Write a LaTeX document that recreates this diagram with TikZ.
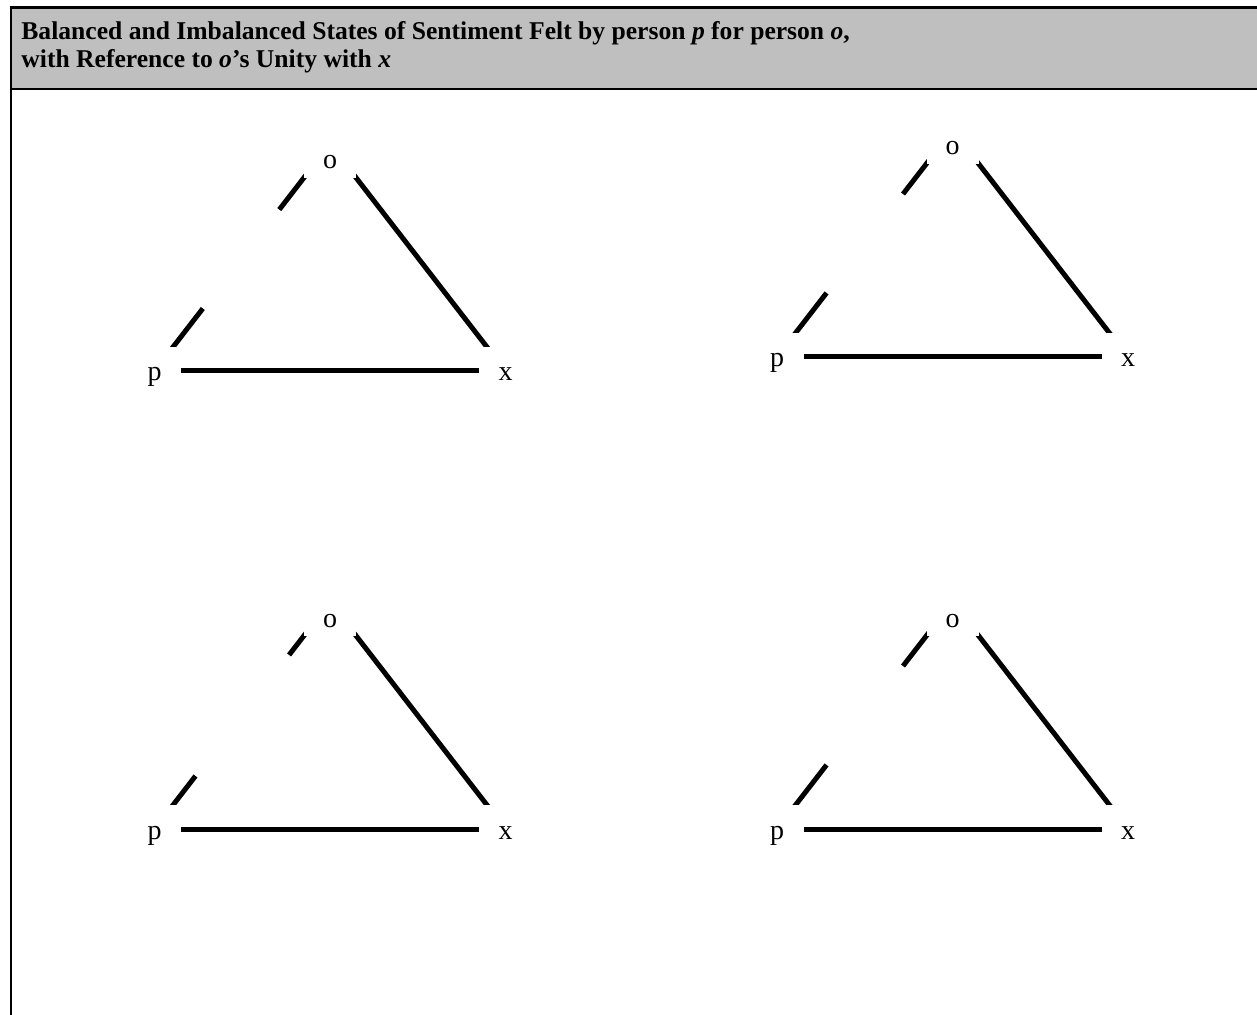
\documentclass[tikz,border=0pt]{standalone}
\usepackage{fontspec}
\setmainfont{Liberation Serif}
\usetikzlibrary{backgrounds}
\definecolor{hdrgray}{HTML}{BFBFBF}

\begin{document}
\begin{tikzpicture}[x=0.5pt,y=-0.5pt,
  frame/.style={line width=1.2pt},
  edge/.style={line width=2.5pt},
  vtx/.style={fill=white,inner sep=0pt,minimum width=26.5pt,minimum height=24pt,
              text height=10pt,text depth=0pt,font=\fontsize{14}{16}\selectfont},
  apex/.style={vtx,minimum width=26pt,minimum height=34pt,text height=25pt}]
\useasboundingbox (0,0) rectangle (1257,1015);
% header band
\fill[hdrgray] (11,7.5) rectangle (1270,89);
\draw[frame] (11,1030) -- (11,7.5) -- (1270,7.5);
\draw[frame] (11,89) -- (1270,89);
\node[anchor=north west,inner sep=0pt,align=left,
      font=\fontsize{12.8}{14}\selectfont\bfseries] (title) at (21,21.5)
  {Balanced and Imbalanced States of Sentiment Felt by person \textit{p} for person \textit{o},\\
   with Reference to \textit{o}'s Unity with \textit{x}};
% the four p-o-x triangles
\foreach \n/\px/\py/\don/\doff in {1/154.5/371/39.5pt/62.5pt, 2/777/357/40.5pt/62.5pt,
                                   3/154.5/829/33.5pt/76.5pt, 4/777/829/40.5pt/62.5pt}{
  \node[vtx] (p\n) at (\px,\py) {p};
  \node[vtx] (x\n) at (\px+351,\py) {x};
  \node[apex] (o\n) at (\px+175.5,\py-227) {o};
  \begin{pgfonlayer}{background}
    \draw[edge] (p\n.center) -- (x\n.center);
    \draw[edge] (o\n.center) -- (x\n.center);
    \draw[edge,dash pattern=on \don off \doff on 200pt] (p\n.center) -- (o\n.center);
  \end{pgfonlayer}
}
\end{tikzpicture}
\end{document}
